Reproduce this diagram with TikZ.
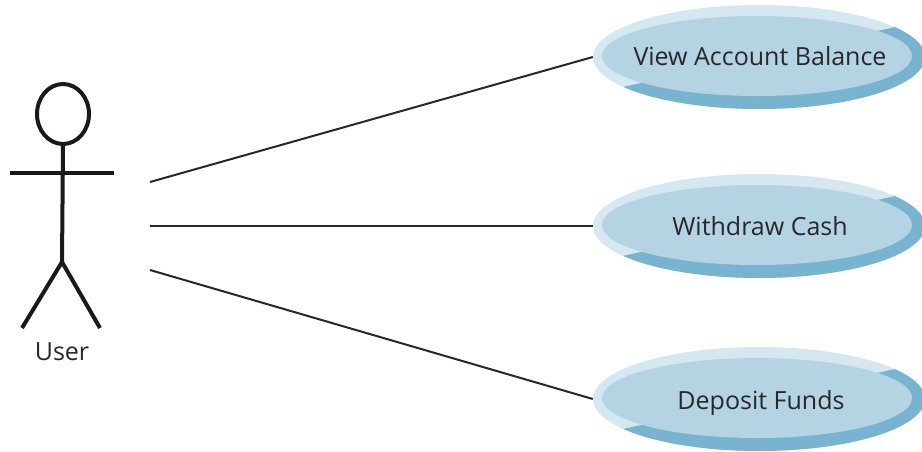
\documentclass[tikz,border=0pt]{standalone}
\usepackage{fontspec}
\setmainfont{Open Sans}
\usetikzlibrary{shapes.geometric}

\definecolor{rimlight}{RGB}{213,231,241}
\definecolor{rimdark}{RGB}{120,180,207}
\definecolor{caseblue}{RGB}{180,212,228}
\definecolor{inkgray}{RGB}{40,40,40}

\tikzset{
  usecase/.style={ellipse, minimum width=332pt, minimum height=104pt, inner sep=0pt,
    path picture={
      \fill[rimlight] (path picture bounding box.south west) rectangle (path picture bounding box.north east);
      \fill[rimdark] ([shift={(-200pt,-44pt)}]path picture bounding box.center)
        -- ([shift={(200pt,44pt)}]path picture bounding box.center)
        -- ([shift={(200pt,-100pt)}]path picture bounding box.center)
        -- ([shift={(-200pt,-100pt)}]path picture bounding box.center) -- cycle;
      \fill[caseblue] ([shift={(-2pt,1pt)}]path picture bounding box.center) ellipse [x radius=155pt, y radius=40pt];
    }},
  casetext/.style={font=\fontsize{25}{30}\selectfont, text=inkgray, text height=0.72em, text depth=0pt, inner sep=0pt},
  stick/.style={line width=4pt, black!90},
  assoc/.style={line width=2pt, inkgray}
}

\begin{document}
\begin{tikzpicture}[x=1pt,y=-1pt]
  \useasboundingbox (0,0) rectangle (922,451);

  % actor
  \node[draw, stick, ellipse, minimum width=52pt, minimum height=60pt, inner sep=0pt] (head) at (63,114) {};
  \coordinate (hip) at (62,262);
  \draw[stick] (head.south) -- (hip);
  \draw[stick] (10,173) -- (114,173);
  \draw[stick] (22,328) -- (hip) -- (100,328);
  \node[casetext] (user) at (62,357) {User};

  % use cases
  \node[usecase] (view) at (759,57) {};
  \node[casetext] (viewlabel) at (760,62) {View Account Balance};

  \node[usecase] (withdraw) at (759,226) {};
  \node[casetext] (withdrawlabel) at (760,232) {Withdraw Cash};

  \node[usecase] (deposit) at (759,399) {};
  \node[casetext] (depositlabel) at (761,406) {Deposit Funds};

  % associations
  \coordinate (a1) at (150,182);
  \coordinate (a2) at (150,226);
  \coordinate (a3) at (150,270);
  \draw[assoc] (a1) -- (view.west);
  \draw[assoc] (a2) -- (withdraw.west);
  \draw[assoc] (a3) -- (deposit.west);
\end{tikzpicture}
\end{document}
